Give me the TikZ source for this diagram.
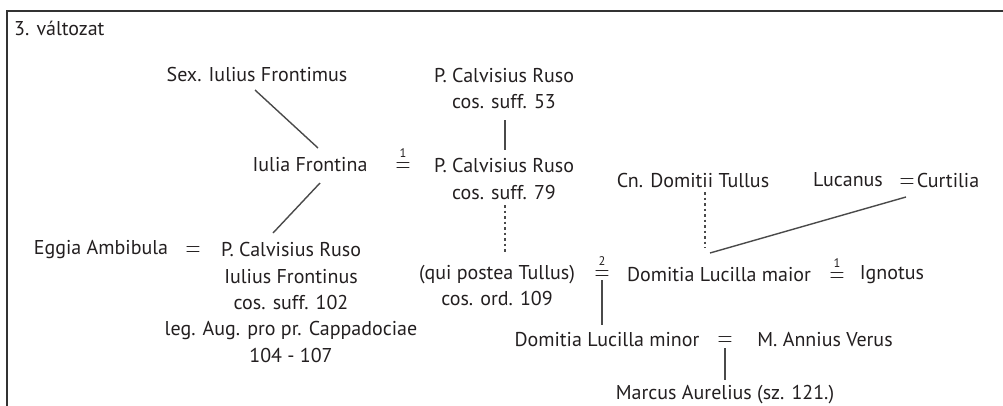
\documentclass[tikz,border=0pt]{standalone}
\usepackage{fontspec}
\setmainfont{PT Sans}
\definecolor{txt}{HTML}{231F20}
\definecolor{ln}{HTML}{4A4A4A}
\definecolor{frm}{HTML}{333333}
% a tall, thin equals sign for marriages
\newcommand{\marsign}{\scalebox{1}[1.35]{$=$}}
\begin{document}
\begin{tikzpicture}[x=1pt,y=-1pt,
  every node/.style={font=\fontsize{20}{26.3}\selectfont, text=txt, inner sep=1pt},
  person/.style={align=center},
  eqsign/.style={inner sep=0pt, anchor=south, align=center, font=\fontsize{20}{15}\selectfont},
  rel/.style={draw=ln, line width=1.4pt},
  dotrel/.style={rel, line width=1.2pt, dash pattern=on 2.5pt off 3pt},
  frame/.style={draw=frm, line width=2.8pt}]
\newcommand{\marnum}[1]{{\fontsize{12.5}{12.5}\selectfont #1}\\\marsign}
\useasboundingbox (0,0) rectangle (1003,405);
% frame of the chart
\draw[frame] (7,406) -- (7,11) -- (1004,11);

% title
\node[anchor=west] (title) at (13,28) {3. változat};

% people
\node[person] (sex)     at (257,74)    {Sex. Iulius Frontimus};
\node[person] (ruso53)  at (504,88.5)  {P. Calvisius Ruso\\cos. suff. 53};
\node[person] (iulia)   at (310,165)   {Iulia Frontina};
\node[person] (ruso79)  at (504,179)   {P. Calvisius Ruso\\cos. suff. 79};
\node[person] (eggia)   at (101,250)   {Eggia Ambibula};
\node[person] (ruso102) at (291,302.5) {P. Calvisius Ruso\\Iulius Frontinus\\cos. suff. 102\\leg. Aug. pro pr. Cappadociae\\104 - 107};
\node[person] (qui)     at (497,285.5) {(qui postea Tullus)\\cos. ord. 109};
\node[person] (cn)      at (693,180)   {Cn. Domitii Tullus};
\node[person] (lucanus) at (848,180)   {Lucanus};
\node[person] (curtilia) at (948,180)  {Curtilia};
\node[person] (maior)   at (719,275)   {Domitia Lucilla maior};
\node[person] (ignotus) at (892,275)   {Ignotus};
\node[person] (minor)   at (607,340)   {Domitia Lucilla minor};
\node[person] (annius)  at (825,340)   {M. Annius Verus};
\node[person] (marcus)  at (725,395)   {Marcus Aurelius (sz. 121.)};

% marriages (number = order of marriage)
\node[eqsign] (eqA) at (403,173)   {\marnum{1}};
\node[eqsign] (eqE) at (193,257)   {\marsign};
\node[eqsign] (eqB) at (602,281)   {\marnum{2}};
\node[eqsign] (eqC) at (837,282.5) {\marnum{1}};
\node[eqsign] (eqL) at (907,188.5) {\marsign};
\node[eqsign] (eqM) at (725,347)   {\marsign};

% descent lines
\draw[rel] ([xshift=-2pt,yshift=-16pt]sex.center) -- ([xshift=8pt,yshift=17pt]iulia.center);
\draw[rel] ([xshift=10pt,yshift=-18pt]iulia.center) -- ([xshift=-18pt,yshift=69.5pt]ruso102.center);
\draw[rel] ([xshift=1pt,yshift=-31.5pt]ruso53.center) -- ([xshift=1pt,yshift=29pt]ruso79.center);
\draw[dotrel] ([xshift=1pt,yshift=-26pt]ruso79.center) -- ([xshift=8pt,yshift=33.5pt]qui.center);
\draw[dotrel] ([xshift=12pt,yshift=-12pt]cn.center) -- ([xshift=-14pt,yshift=27pt]maior.center);
\draw[rel] ([xshift=-42pt,yshift=-17pt]curtilia.center) -- ([xshift=-9pt,yshift=22pt]maior.center);
\draw[rel] ([yshift=1pt]eqB.south) -- ([xshift=-5pt,yshift=15pt]minor.center);
\draw[rel] ([yshift=-1pt]eqM.south) -- ([yshift=15pt]marcus.center);
\end{tikzpicture}
\end{document}
